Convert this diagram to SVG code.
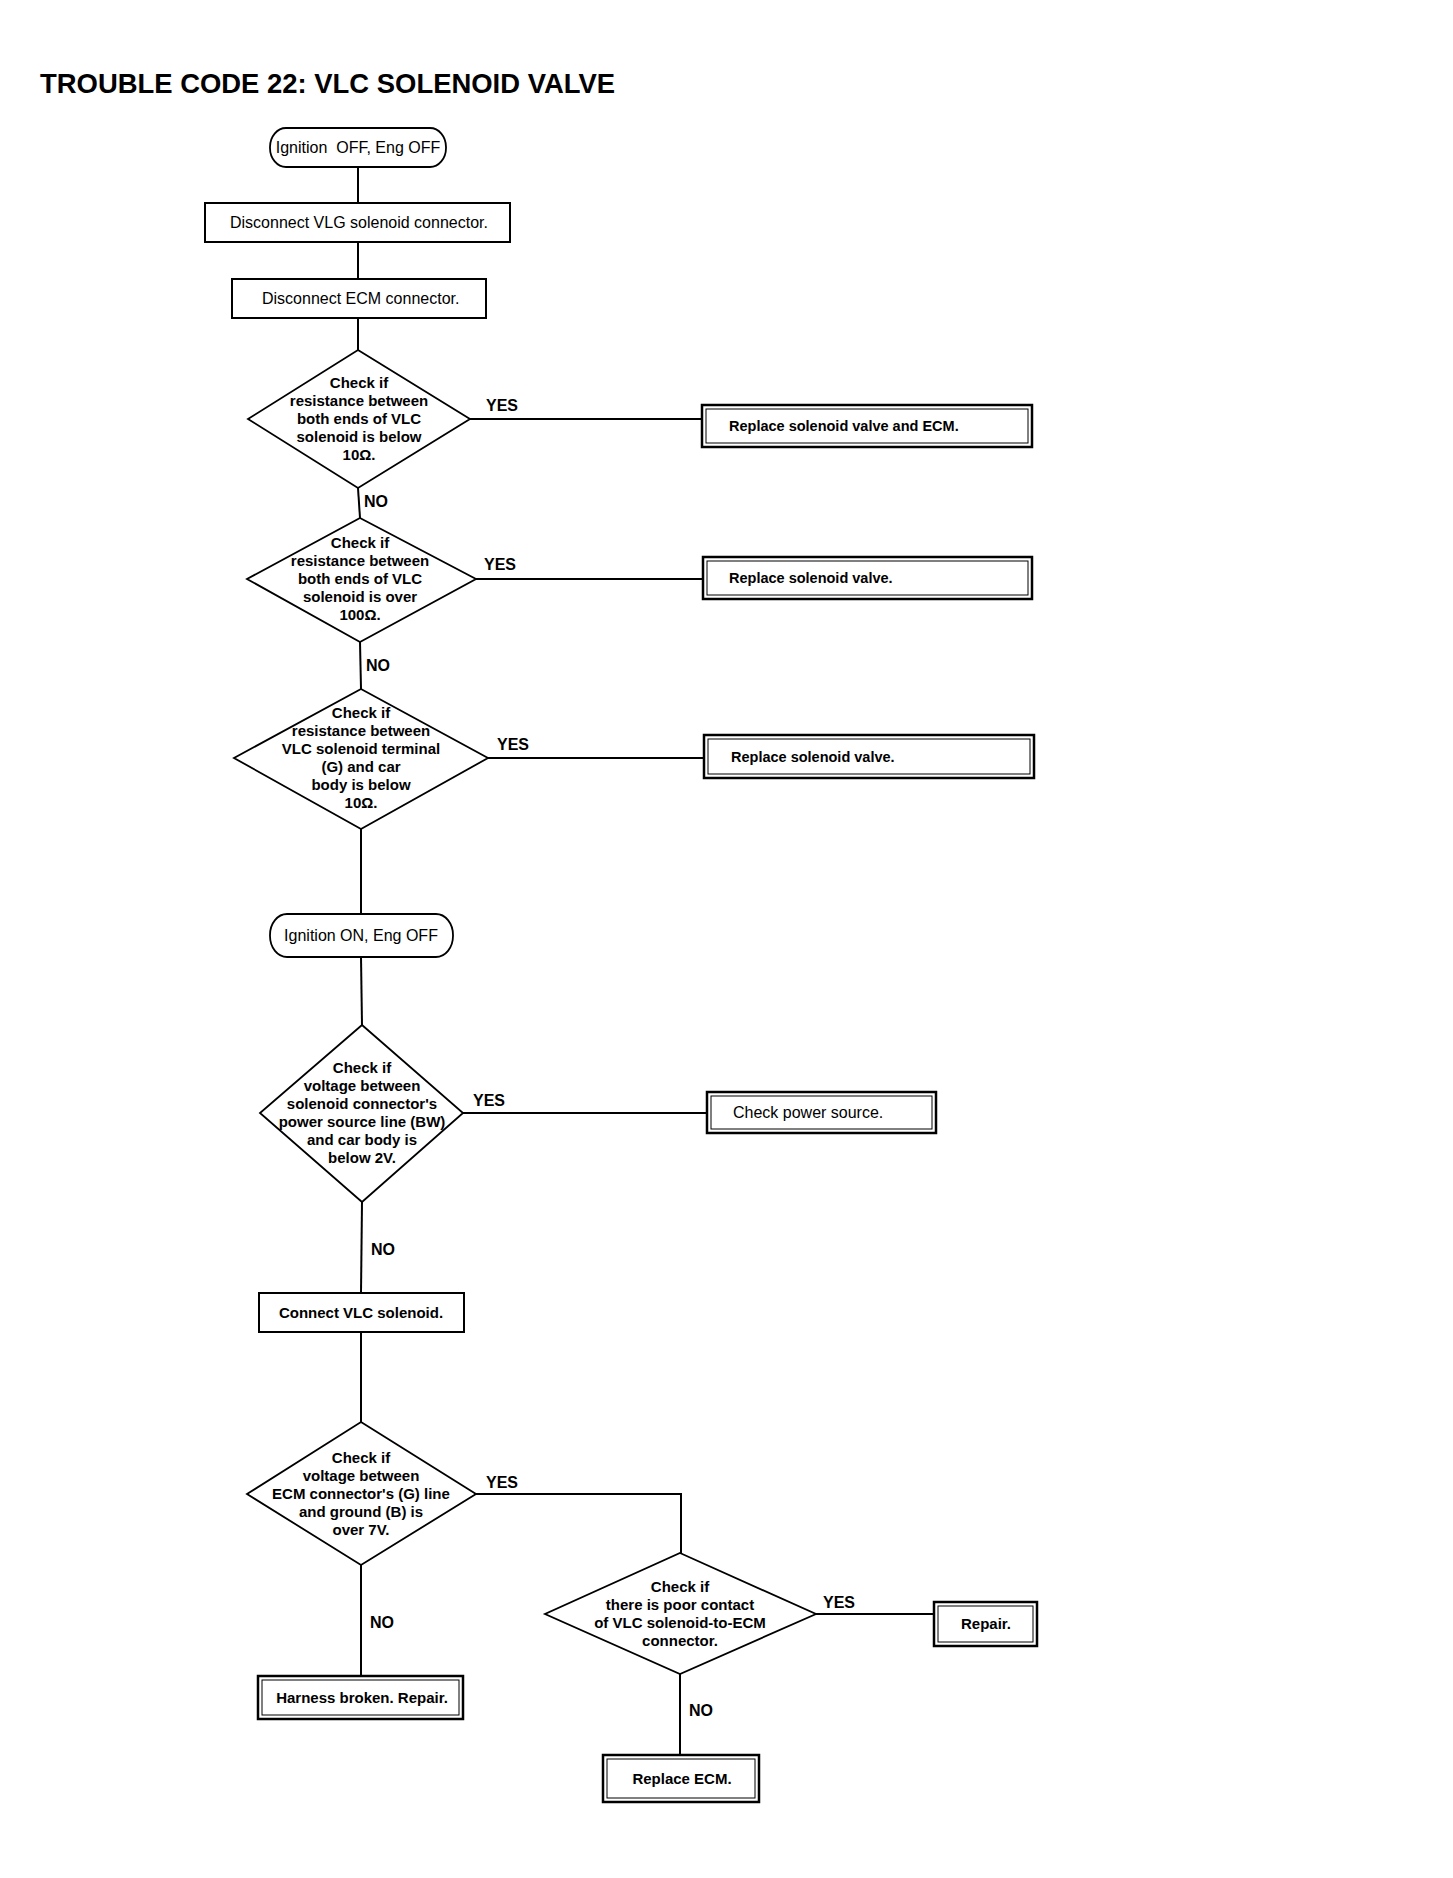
<svg xmlns="http://www.w3.org/2000/svg" width="1453" height="1878" viewBox="0 0 1453 1878">
<style>
text{font-family:"Liberation Sans",Arial,sans-serif;fill:#000}
.title{font-size:28px;font-weight:bold}
.t16{font-size:16px}
.b15{font-size:15px;font-weight:bold}
.b145{font-size:14.5px;font-weight:bold}
.lbl{font-size:16px;font-weight:bold}
.dt{font-size:15px;font-weight:bold;text-anchor:middle}
.mid{text-anchor:middle}
.box{fill:#fff;stroke:#000;stroke-width:2}
.outer{fill:#fff;stroke:#000;stroke-width:2.5}
.inner{fill:none;stroke:#000;stroke-width:1}
.term{fill:#fff;stroke:#000;stroke-width:1.8}
.dia{fill:#fff;stroke:#000;stroke-width:1.8}
.conn{fill:none;stroke:#000;stroke-width:2}
</style>
<rect width="1453" height="1878" fill="#fff"/>
<text class="title" x="40" y="93" textLength="575" lengthAdjust="spacingAndGlyphs">TROUBLE CODE 22: VLC SOLENOID VALVE</text>

<g id="connectors">
<polyline class="conn" points="358,167 358,203"/>
<polyline class="conn" points="358,242 358,279"/>
<polyline class="conn" points="358,318 358,350"/>
<polyline class="conn" points="470,419 702,419"/>
<polyline class="conn" points="358,488 360,518"/>
<polyline class="conn" points="476,579 703,579"/>
<polyline class="conn" points="360,642 361,689"/>
<polyline class="conn" points="488,758 704,758"/>
<polyline class="conn" points="361,829 361,914"/>
<polyline class="conn" points="361,957 362,1025"/>
<polyline class="conn" points="463,1113 707,1113"/>
<polyline class="conn" points="362,1202 361,1293"/>
<polyline class="conn" points="361,1332 361,1422"/>
<polyline class="conn" points="476,1494 681,1494 681,1553"/>
<polyline class="conn" points="361,1565 361,1676"/>
<polyline class="conn" points="816,1614 934,1614"/>
<polyline class="conn" points="680,1674 680,1755"/>
<text class="lbl" x="486" y="411">YES</text>
<text class="lbl" x="364" y="507">NO</text>
<text class="lbl" x="484" y="570">YES</text>
<text class="lbl" x="366" y="671">NO</text>
<text class="lbl" x="497" y="750">YES</text>
<text class="lbl" x="473" y="1106">YES</text>
<text class="lbl" x="371" y="1255">NO</text>
<text class="lbl" x="486" y="1488">YES</text>
<text class="lbl" x="370" y="1628">NO</text>
<text class="lbl" x="823" y="1608">YES</text>
<text class="lbl" x="689" y="1716">NO</text>
</g>

<g id="start1">
<rect class="term" x="270" y="128" width="176" height="39" rx="16" ry="19"/>
<text class="t16 mid" x="358" y="153" xml:space="preserve">Ignition  OFF, Eng OFF</text>
</g>
<g id="disconnect-vlg">
<rect class="box" x="205" y="203" width="305" height="39"/>
<text class="t16" x="230" y="228">Disconnect VLG solenoid connector.</text>
</g>
<g id="disconnect-ecm">
<rect class="box" x="232" y="279" width="254" height="39"/>
<text class="t16" x="262" y="304">Disconnect ECM connector.</text>
</g>
<g id="check1">
<polygon class="dia" points="358,350 470,419 358,488 248,419"/>
<text class="dt" x="359" y="388">Check if</text>
<text class="dt" x="359" y="406">resistance between</text>
<text class="dt" x="359" y="424">both ends of VLC</text>
<text class="dt" x="359" y="442">solenoid is below</text>
<text class="dt" x="359" y="460">10Ω.</text>
</g>
<g id="replace-valve-ecm">
<rect class="outer" x="702" y="405" width="330" height="42"/>
<rect class="inner" x="706" y="409" width="322" height="34"/>
<text class="b145" x="729" y="431">Replace solenoid valve and ECM.</text>
</g>
<g id="check2">
<polygon class="dia" points="360,518 476,579 360,642 247,579"/>
<text class="dt" x="360" y="548">Check if</text>
<text class="dt" x="360" y="566">resistance between</text>
<text class="dt" x="360" y="584">both ends of VLC</text>
<text class="dt" x="360" y="602">solenoid is over</text>
<text class="dt" x="360" y="620">100Ω.</text>
</g>
<g id="replace-valve-1">
<rect class="outer" x="703" y="557" width="329" height="42"/>
<rect class="inner" x="707" y="561" width="321" height="34"/>
<text class="b145" x="729" y="583">Replace solenoid valve.</text>
</g>
<g id="check3">
<polygon class="dia" points="361,689 488,758 361,829 234,758"/>
<text class="dt" x="361" y="718">Check if</text>
<text class="dt" x="361" y="736">resistance between</text>
<text class="dt" x="361" y="754">VLC solenoid terminal</text>
<text class="dt" x="361" y="772">(G) and car</text>
<text class="dt" x="361" y="790">body is below</text>
<text class="dt" x="361" y="808">10Ω.</text>
</g>
<g id="replace-valve-2">
<rect class="outer" x="704" y="735" width="330" height="43"/>
<rect class="inner" x="708" y="739" width="322" height="35"/>
<text class="b145" x="731" y="762">Replace solenoid valve.</text>
</g>
<g id="start2">
<rect class="term" x="270" y="914" width="183" height="43" rx="17" ry="21"/>
<text class="t16 mid" x="361" y="941">Ignition ON, Eng OFF</text>
</g>
<g id="check4">
<polygon class="dia" points="362,1025 463,1113 362,1202 260,1113"/>
<text class="dt" x="362" y="1073">Check if</text>
<text class="dt" x="362" y="1091">voltage between</text>
<text class="dt" x="362" y="1109">solenoid connector's</text>
<text class="dt" x="362" y="1127">power source line (BW)</text>
<text class="dt" x="362" y="1145">and car body is</text>
<text class="dt" x="362" y="1163">below 2V.</text>
</g>
<g id="check-power">
<rect class="outer" x="707" y="1092" width="229" height="41"/>
<rect class="inner" x="711" y="1096" width="221" height="33"/>
<text class="t16" font-size="15.5" x="733" y="1118">Check power source.</text>
</g>
<g id="connect-vlc">
<rect class="box" x="259" y="1293" width="205" height="39"/>
<text class="b15 mid" x="361" y="1318">Connect VLC solenoid.</text>
</g>
<g id="check5">
<polygon class="dia" points="361,1422 476,1494 361,1565 247,1494"/>
<text class="dt" x="361" y="1463">Check if</text>
<text class="dt" x="361" y="1481">voltage between</text>
<text class="dt" x="361" y="1499">ECM connector's (G) line</text>
<text class="dt" x="361" y="1517">and ground (B) is</text>
<text class="dt" x="361" y="1535">over 7V.</text>
</g>
<g id="harness">
<rect class="outer" x="258" y="1676" width="205" height="43"/>
<rect class="inner" x="262" y="1680" width="197" height="35"/>
<text class="b15 mid" x="362" y="1703">Harness broken. Repair.</text>
</g>
<g id="check6">
<polygon class="dia" points="680,1553 816,1614 680,1674 545,1614"/>
<text class="dt" x="680" y="1592">Check if</text>
<text class="dt" x="680" y="1610">there is poor contact</text>
<text class="dt" x="680" y="1628">of VLC solenoid-to-ECM</text>
<text class="dt" x="680" y="1646">connector.</text>
</g>
<g id="repair">
<rect class="outer" x="934" y="1602" width="103" height="44"/>
<rect class="inner" x="938" y="1606" width="95" height="36"/>
<text class="b15 mid" x="986" y="1629">Repair.</text>
</g>
<g id="replace-ecm">
<rect class="outer" x="603" y="1755" width="156" height="47"/>
<rect class="inner" x="607" y="1759" width="148" height="39"/>
<text class="b15 mid" x="682" y="1784">Replace ECM.</text>
</g>
</svg>
